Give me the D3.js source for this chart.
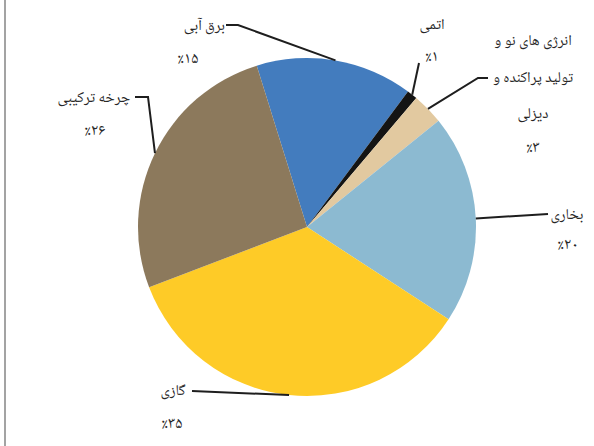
<!DOCTYPE html>
<html>
<head>
<meta charset="utf-8">
<script src="https://cdn.jsdelivr.net/npm/d3@7"></script>
<style>
  body { margin: 0; background: #fff; }
  text { font-family: "Noto Naskh Arabic", "DejaVu Sans", sans-serif; font-size: 15px; fill: #262626; }
</style>
</head>
<body>
<div id="chart"></div>
<script>
// slices, clockwise starting from the hydro slice
const categories = ["برق آبی", "اتمی", "انرژی های نو و|تولید پراکنده و|دیزلی", "بخاری", "گازی", "چرخه ترکیبی"];
const values = [15, 1, 3, 20, 35, 26];
const percentLabels = ["٪۱۵", "٪۱", "٪۳", "٪۲۰", "٪۳۵", "٪۲۶"];
const colors = ["#437cbe", "#141414", "#e2c9a0", "#8cbad1", "#fecb27", "#8c795c"];

// label placement: text block position and leader elbow
const layout = [
  {x: 225, y: 25, pctX: 188, pctY: 57, anchor: "end", elbow: [[238, 25], [226, 25]]},
  {x: 432, y: 24, pctX: 432, pctY: 55, anchor: "middle", elbow: [[419, 63]]},
  {x: 533, y: 40, pctX: 533, pctY: 146, anchor: "middle", lineGap: 36.5, elbow: [[478, 78], [488, 78]]},
  {x: 567, y: 214, pctX: 568, pctY: 243, anchor: "middle", elbow: [[548, 214]]},
  {x: 173, y: 390, pctX: 172, pctY: 422, anchor: "middle", elbow: [[192, 391]]},
  {x: 94, y: 97, pctX: 95, pctY: 129, anchor: "middle", elbow: [[148, 97], [135, 97]]}
];

const width = 594, height = 446;
const cx = 307, cy = 227, radius = 169;
const startAngle = -17.3 * Math.PI / 180;

const svg = d3.select("#chart")
    .append("svg")
    .attr("width", width)
    .attr("height", height);

// left frame edge
svg.append("line")
    .attr("x1", 5).attr("x2", 5)
    .attr("y1", 0).attr("y2", height)
    .attr("stroke", "#a3a3a3")
    .attr("stroke-width", 2);

const pie = d3.pie()
    .sort(null)
    .value(d => d)
    .startAngle(startAngle)
    .endAngle(startAngle + 2 * Math.PI);

const arc = d3.arc().innerRadius(0).outerRadius(radius);

const arcs = pie(values);

const g = svg.append("g")
    .attr("transform", "translate(" + cx + "," + cy + ")");

g.selectAll("path")
    .data(arcs)
    .join("path")
    .attr("d", arc)
    .attr("fill", (d, i) => colors[i]);

// leader lines from the slice edge to the label
const line = d3.line();
arcs.forEach(function(d, i) {
    const mid = (d.startAngle + d.endAngle) / 2;
    const p0 = [cx + radius * Math.sin(mid), cy - radius * Math.cos(mid)];
    svg.append("path")
        .attr("d", line([p0].concat(layout[i].elbow)))
        .attr("fill", "none")
        .attr("stroke", "#1e1e1e")
        .attr("stroke-width", 2);
});

// category labels
categories.forEach(function(name, i) {
    const L = layout[i];
    const lines = name.split("|");
    lines.forEach(function(t, k) {
        svg.append("text")
            .attr("x", L.x)
            .attr("y", L.y + k * (L.lineGap || 0))
            .attr("dy", "0.35em")
            .attr("text-anchor", L.anchor)
            .text(t);
    });
    svg.append("text")
        .attr("x", L.pctX)
        .attr("y", L.pctY)
        .attr("dy", "0.35em")
        .attr("text-anchor", "middle")
        .attr("direction", "ltr")
        .style("font-size", "16px")
        .text(percentLabels[i]);
});
</script>
</body>
</html>
